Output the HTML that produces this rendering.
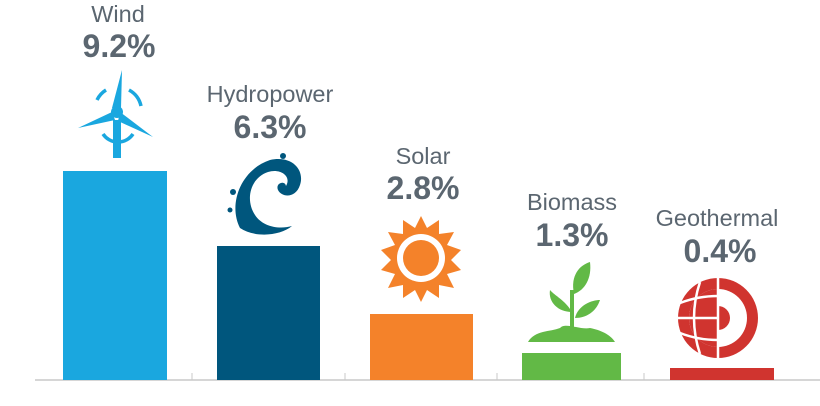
<!DOCTYPE html>
<html><head><style>
body{margin:0;background:#fff;}
svg{display:block;font-family:"Liberation Sans",sans-serif;}
.n{font-size:23.5px;fill:#5b6670;text-anchor:middle;}
.v{font-size:32px;font-weight:bold;fill:#5b6670;text-anchor:middle;}
</style></head><body>
<svg width="820" height="406" viewBox="0 0 820 406">
<line x1="35" y1="380" x2="820" y2="380" stroke="#c8c8c8" stroke-width="1.5"/>
<g stroke="#c8c8c8" stroke-width="1"><line x1="192" y1="373" x2="192" y2="380"/><line x1="345" y1="373" x2="345" y2="380"/><line x1="497" y1="373" x2="497" y2="380"/><line x1="644" y1="373" x2="644" y2="380"/></g>
<rect x="63" y="171" width="104" height="209" fill="#1aa7df"/>
<rect x="217" y="246" width="103" height="134" fill="#00567d"/>
<rect x="370" y="314" width="103" height="66" fill="#f4822a"/>
<rect x="522" y="353" width="99" height="27" fill="#62b946"/>
<rect x="670" y="368" width="104" height="12" fill="#d0342f"/>
<text class="n" x="118" y="22">Wind</text><text class="v" x="119" y="57">9.2%</text>
<text class="n" x="270" y="102">Hydropower</text><text class="v" x="270" y="138">6.3%</text>
<text class="n" x="423" y="164">Solar</text><text class="v" x="423" y="199">2.8%</text>
<text class="n" x="572" y="210">Biomass</text><text class="v" x="572" y="246">1.3%</text>
<text class="n" x="717" y="226">Geothermal</text><text class="v" x="720" y="262">0.4%</text>
<!-- wind turbine -->
<g fill="#1aa7df" stroke="none">
<circle cx="117" cy="112" r="6"/>
<polygon points="112,108 122,70 121,108"/>
<polygon points="112,112 78,128 115,120"/>
<polygon points="120,112 153,137 118,121"/>
<rect x="113" y="120" width="8" height="38"/>
</g>
<g fill="none" stroke="#1aa7df" stroke-width="3.5">
<path d="M97,100 A24,24 0 0 1 106,90"/><path d="M129,90 A24,24 0 0 1 141,106"/><path d="M103,134 A18,18 0 0 0 133,134"/>
</g>
<!-- wave -->
<path d="M240,228 C228,205 240,170 270,160 C292,155 305,170 300,185 C296,198 282,198 278,190 C275,183 285,180 286,186 C292,176 280,168 268,172 C250,178 245,200 255,215 C262,226 278,230 292,226 C280,236 255,238 240,228Z" fill="#00567d"/>
<circle cx="283" cy="156" r="3" fill="#00567d"/><circle cx="233" cy="192" r="3" fill="#00567d"/><circle cx="230" cy="210" r="2.5" fill="#00567d"/>
<!-- sun -->
<g transform="translate(421,258)" fill="#f4822a">
<polygon points="0,-42 6,-30 18,-38 18,-24 33,-26 26,-13 40,-8 30,2 40,12 26,16 33,30 18,27 18,40 6,32 0,44 -6,32 -18,40 -18,27 -33,30 -26,16 -40,12 -30,2 -40,-8 -26,-13 -33,-26 -18,-24 -18,-38 -6,-30"/>
<circle r="24" fill="#fff"/><circle r="18"/>
</g>
<!-- plant -->
<g fill="#62b946">
<path d="M528,342 C535,330 550,332 560,328 C565,322 580,330 590,328 C600,330 610,334 615,342Z"/>
<rect x="570" y="290" width="4" height="40"/>
<path d="M574,294 C570,275 580,265 590,262 C592,278 585,290 574,294Z"/>
<path d="M572,312 C565,300 555,296 550,290 C548,302 558,312 572,312Z"/>
<path d="M575,318 C578,305 592,300 600,300 C596,312 586,318 575,318Z"/>
</g>
<!-- geothermal -->
<g transform="translate(718,318)">
<circle r="40" fill="#d0342f"/>
<circle r="29" fill="#fff"/>
<path d="M0,-29 A29,29 0 0 0 0,29Z" fill="#d0342f"/>
<path d="M0,-12 A12,12 0 0 1 0,12Z" fill="#d0342f"/>
<g stroke="#fff" stroke-width="2.5" fill="none">
<line x1="0" y1="-42" x2="0" y2="42"/><line x1="-42" y1="0" x2="0" y2="0"/>
<path d="M-38,-15 Q-20,-22 0,-22"/><path d="M-38,15 Q-20,22 0,22"/>
<path d="M-18,-36 Q-30,0 -18,36"/>
</g>
</g>
</svg>
</body></html>
